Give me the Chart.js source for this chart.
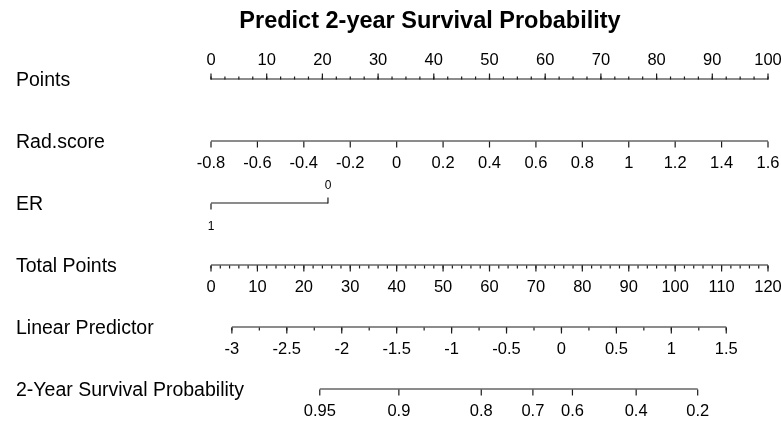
<!DOCTYPE html>
<html>
<head>
<meta charset="utf-8">
<script src="https://cdn.jsdelivr.net/npm/chart.js@4.4.0/dist/chart.umd.min.js"></script>
<style>
  html, body { margin: 0; padding: 0; background: #fff; }
  #wrap { width: 781px; height: 424px; }
</style>
</head>
<body>
<div id="wrap"><canvas id="nomogram"></canvas></div>
<script>
const chartTitle = 'Predict 2-year Survival Probability';
const rowNames = ['Points', 'Rad.score', 'ER', 'Total Points', 'Linear Predictor', '2-Year Survival Probability'];

const pointTicks = [0, 10, 20, 30, 40, 50, 60, 70, 80, 90, 100];
const radScoreTicks = [-0.8, -0.6, -0.4, -0.2, 0, 0.2, 0.4, 0.6, 0.8, 1, 1.2, 1.4, 1.6];
const erLevels = ['1', '0'];
const erPoints = [0, 21];
const totalPointTicks = [0, 10, 20, 30, 40, 50, 60, 70, 80, 90, 100, 110, 120];
const lpTicks = [-3, -2.5, -2, -1.5, -1, -0.5, 0, 0.5, 1, 1.5];
const survivalTicks = [0.95, 0.9, 0.8, 0.7, 0.6, 0.4, 0.2];
// linear predictor value under each survival tick
const survivalLp = [-2.20, -1.48, -0.73, -0.26, 0.10, 0.68, 1.24];
// linear predictor at 0 and 120 total points
const lpRange = [-3.19, 1.88];

const FONT = '"Liberation Sans", Arial, Helvetica, sans-serif';
const INK = '#1a1a1a';

const steps = (from, to, by) => {
	const out = [];
	for (let v = from; v <= to + 1e-9; v += by) out.push(+v.toFixed(4));
	return out;
};

// one entry per ruler: scale, row, where ticks go and what they say
const rulers = [
	{ row: 0, scale: 'x', at: pointTicks, labels: pointTicks, minor: steps(0, 100, 2.5), up: true },
	{ row: 1, scale: 'xRad', at: radScoreTicks, labels: radScoreTicks },
	{ row: 3, scale: 'xTot', at: totalPointTicks, labels: totalPointTicks, minor: steps(0, 120, 2) },
	{ row: 4, scale: 'xLp', at: lpTicks, labels: lpTicks, minor: steps(-3, 1.5, 0.25) },
	{ row: 5, scale: 'xLp', at: survivalLp, labels: survivalTicks }
];

const axisLine = (scaleId, row, from, to) => ({
	data: [{ x: from, y: row }, { x: to, y: row }],
	xAxisID: scaleId,
	yAxisID: 'y',
	borderColor: INK,
	borderWidth: 1.2,
	pointRadius: 0,
	showLine: true,
	fill: false
});

const nomogramAxes = {
	id: 'nomogramAxes',
	afterDatasetsDraw(chart) {
		const { ctx, scales } = chart;
		const rowY = i => Math.round(scales.y.getPixelForValue(i)) + 0.5;
		ctx.save();
		ctx.strokeStyle = INK;
		ctx.fillStyle = '#000';
		ctx.lineWidth = 1.2;

		// title
		ctx.font = 'bold 23.5px ' + FONT;
		ctx.textAlign = 'center';
		ctx.textBaseline = 'middle';
		ctx.fillText(chartTitle, 430, 22);

		// row names
		ctx.font = '19.5px ' + FONT;
		ctx.textAlign = 'left';
		rowNames.forEach((name, i) => ctx.fillText(name, 16, rowY(i) + 1));

		const tick = (x, y, len) => {
			ctx.beginPath();
			ctx.moveTo(x, y);
			ctx.lineTo(x, y + len);
			ctx.stroke();
		};

		ctx.font = '16.5px ' + FONT;
		ctx.textAlign = 'center';
		rulers.forEach(r => {
			const sc = scales[r.scale];
			const y = rowY(r.row);
			const dir = r.up ? -1 : 1;
			(r.minor || []).forEach(v => tick(sc.getPixelForValue(v), y, dir * 3));
			r.at.forEach((v, k) => {
				const x = sc.getPixelForValue(v);
				tick(x, y, dir * 6);
				ctx.fillText(String(r.labels[k]), x, y + dir * (r.up ? 19 : 21.5));
			});
		});

		// ER: levels alternate below / above the line
		const y = rowY(2);
		ctx.font = '12px ' + FONT;
		erPoints.forEach((p, k) => {
			const x = scales.x.getPixelForValue(p);
			const dir = k % 2 === 0 ? 1 : -1;
			tick(x, y, dir * 6);
			ctx.fillText(erLevels[k], x, y + dir * (k % 2 === 0 ? 23 : 18));
		});
		ctx.restore();
	}
};

new Chart(document.getElementById('nomogram').getContext('2d'), {
	type: 'scatter',
	data: {
		datasets: [
			axisLine('x', 0, 0, 100),
			axisLine('xRad', 1, radScoreTicks[0], radScoreTicks[radScoreTicks.length - 1]),
			axisLine('x', 2, erPoints[0], erPoints[1]),
			axisLine('xTot', 3, totalPointTicks[0], totalPointTicks[totalPointTicks.length - 1]),
			axisLine('xLp', 4, lpTicks[0], lpTicks[lpTicks.length - 1]),
			axisLine('xLp', 5, survivalLp[0], survivalLp[survivalLp.length - 1])
		]
	},
	options: {
		responsive: true,
		maintainAspectRatio: false,
		animation: false,
		layout: { padding: { left: 211, right: 13, top: 48, bottom: 4 } },
		scales: {
			x: { type: 'linear', min: 0, max: 100, display: false },
			xRad: { type: 'linear', axis: 'x', position: 'bottom', min: -0.8, max: 1.6, display: false },
			xTot: { type: 'linear', axis: 'x', position: 'bottom', min: 0, max: 120, display: false },
			xLp: { type: 'linear', axis: 'x', position: 'bottom', min: lpRange[0], max: lpRange[1], display: false },
			y: { type: 'linear', min: -0.5, max: 5.5, reverse: true, display: false }
		},
		plugins: {
			legend: { display: false },
			tooltip: { enabled: false }
		}
	},
	plugins: [nomogramAxes]
});
</script>
</body>
</html>
